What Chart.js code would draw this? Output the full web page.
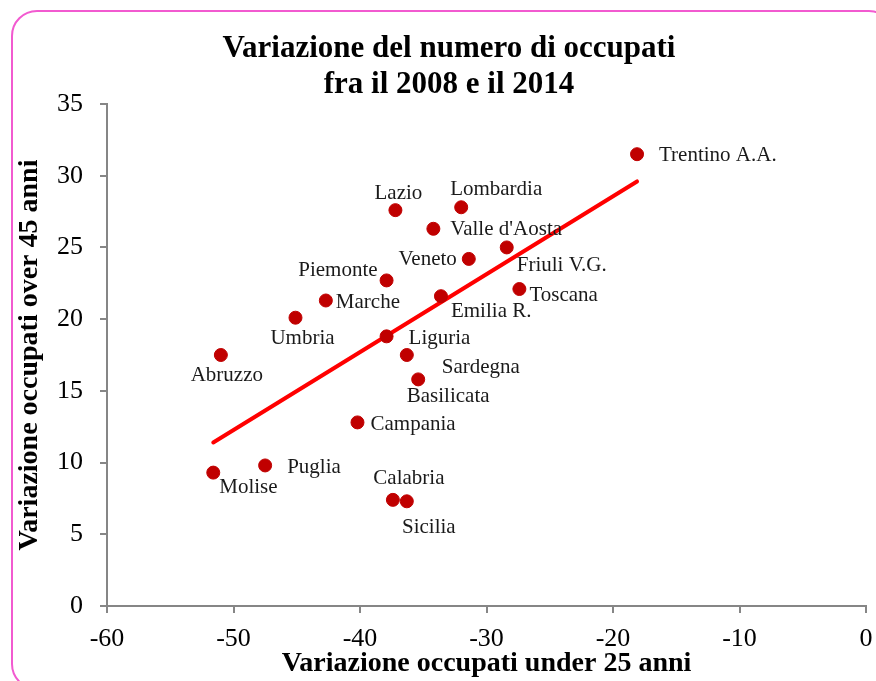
<!DOCTYPE html>
<html>
<head>
<meta charset="utf-8">
<script src="https://cdn.jsdelivr.net/npm/chart.js@4.4.1/dist/chart.umd.min.js"></script>
<style>
  body { margin: 0; background: #fff; }
  #wrap { position: relative; width: 876px; height: 681px; overflow: hidden; }
  #frame {
    position: absolute; left: 11px; top: 10px; width: 880px; height: 676px;
    border: 2px solid #f25ad0; border-radius: 26px; pointer-events: none;
  }
</style>
</head>
<body>
<div id="wrap">
  <canvas id="chart"></canvas>
  <div id="frame"></div>
</div>
<script>
// ===== dati =====
const regioni = ['Trentino A.A.', 'Lazio', 'Lombardia', "Valle d'Aosta", 'Friuli V.G.', 'Veneto',
  'Piemonte', 'Toscana', 'Marche', 'Emilia R.', 'Umbria', 'Liguria', 'Abruzzo', 'Sardegna',
  'Basilicata', 'Campania', 'Puglia', 'Molise', 'Calabria', 'Sicilia'];
const under25 = [-18.1, -37.2, -32.0, -34.2, -28.4, -31.4, -37.9, -27.4, -42.7, -33.6,
  -45.1, -37.9, -51.0, -36.3, -35.4, -40.2, -47.5, -51.6, -37.4, -36.3];
const over45 = [31.5, 27.6, 27.8, 26.3, 25.0, 24.2, 22.7, 22.1, 21.3, 21.6,
  20.1, 18.8, 17.5, 17.5, 15.8, 12.8, 9.8, 9.3, 7.4, 7.3];
const trendX = [-51.6, -18.1];
const trendY = [11.4, 29.6];
const xTicks = [-60, -50, -40, -30, -20, -10, 0];
const yTicks = [0, 5, 10, 15, 20, 25, 30, 35];

// posizione etichette rispetto al punto: [dx, dy, allineamento]
const labelPos = {
  'Trentino A.A.': [22, 1, 'left'],
  'Lazio':         [3, -17, 'center'],
  'Lombardia':     [35, -18, 'center'],
  "Valle d'Aosta": [17, 1, 'left'],
  'Friuli V.G.':   [10, 18, 'left'],
  'Veneto':        [-12, 1, 'right'],
  'Piemonte':      [-9, -10, 'right'],
  'Toscana':       [10, 6, 'left'],
  'Marche':        [10, 2, 'left'],
  'Emilia R.':     [10, 15, 'left'],
  'Umbria':        [7, 21, 'center'],
  'Liguria':       [22, 2, 'left'],
  'Abruzzo':       [6, 20, 'center'],
  'Sardegna':      [35, 12, 'left'],
  'Basilicata':    [30, 17, 'center'],
  'Campania':      [13, 2, 'left'],
  'Puglia':        [22, 2, 'left'],
  'Molise':        [6, 15, 'left'],
  'Calabria':      [16, -21, 'center'],
  'Sicilia':       [22, 26, 'center']
};

const SERIF = '"Liberation Serif", "DejaVu Serif", serif';

const labelPlugin = {
  id: 'etichette',
  afterDatasetsDraw(chart) {
    const ctx = chart.ctx;
    const meta = chart.getDatasetMeta(0);
    ctx.save();
    ctx.font = '21px ' + SERIF;
    ctx.fillStyle = '#1a1a1a';
    ctx.textBaseline = 'middle';
    meta.data.forEach(function(pt, i) {
      const p = labelPos[regioni[i]];
      ctx.textAlign = p[2];
      ctx.fillText(regioni[i], pt.x + p[0], pt.y + p[1]);
    });
    ctx.restore();
  }
};

const titlePlugin = {
  id: 'titolo',
  afterDraw(chart) {
    const ctx = chart.ctx;
    ctx.save();
    ctx.font = 'bold 31px ' + SERIF;
    ctx.fillStyle = '#000';
    ctx.textAlign = 'center';
    ctx.textBaseline = 'middle';
    ctx.fillText('Variazione del numero di occupati', 449, 49);
    ctx.fillText('fra il 2008 e il 2014', 449, 85);
    ctx.restore();
  }
};

const ctx = document.getElementById('chart').getContext('2d');
new Chart(ctx, {
  type: 'scatter',
  data: {
    datasets: [{
      data: under25.map(function(x, i) { return { x: x, y: over45[i] }; }),
      backgroundColor: '#c00000',
      borderColor: '#c00000',
      pointRadius: 6.5,
      pointHoverRadius: 6.5,
      order: 0
    }, {
      type: 'line',
      data: trendX.map(function(x, i) { return { x: x, y: trendY[i] }; }),
      borderColor: '#ff0000',
      borderWidth: 4,
      pointRadius: 0,
      borderCapStyle: 'round',
      order: 1
    }]
  },
  options: {
    responsive: true,
    maintainAspectRatio: false,
    animation: false,
    layout: { padding: { top: 104, right: 10, left: 0, bottom: 0 } },
    plugins: {
      legend: { display: false },
      tooltip: { enabled: false }
    },
    scales: {
      x: {
        type: 'linear', min: -60, max: 0,
        afterBuildTicks: function(s) { s.ticks = xTicks.map(function(v) { return { value: v }; }); },
        afterFit: function(s) { s.height = 75; s.paddingRight = 0; s.paddingLeft = 0; },
        ticks: { color: '#000', font: { family: SERIF, size: 26 }, padding: 11 },
        grid: { drawOnChartArea: false, drawTicks: true, tickLength: 7, color: '#868686', lineWidth: 2 },
        border: { color: '#868686', width: 2 },
        title: { display: true, text: 'Variazione occupati under 25 anni', color: '#000',
                 font: { family: SERIF, size: 28, weight: 'bold' }, padding: { top: 0, bottom: 0 } }
      },
      y: {
        type: 'linear', min: 0, max: 35,
        afterBuildTicks: function(s) { s.ticks = yTicks.map(function(v) { return { value: v }; }); },
        afterFit: function(s) { s.width = 107; },
        ticks: { color: '#000', font: { family: SERIF, size: 26 }, padding: 17 },
        grid: { drawOnChartArea: false, drawTicks: true, tickLength: 7, color: '#868686', lineWidth: 2 },
        border: { color: '#868686', width: 2 },
        title: { display: true, text: 'Variazione occupati over 45 anni', color: '#000',
                 font: { family: SERIF, size: 28, weight: 'bold' }, padding: { top: 13, bottom: 0 } }
      }
    }
  },
  plugins: [labelPlugin, titlePlugin]
});
</script>
</body>
</html>
